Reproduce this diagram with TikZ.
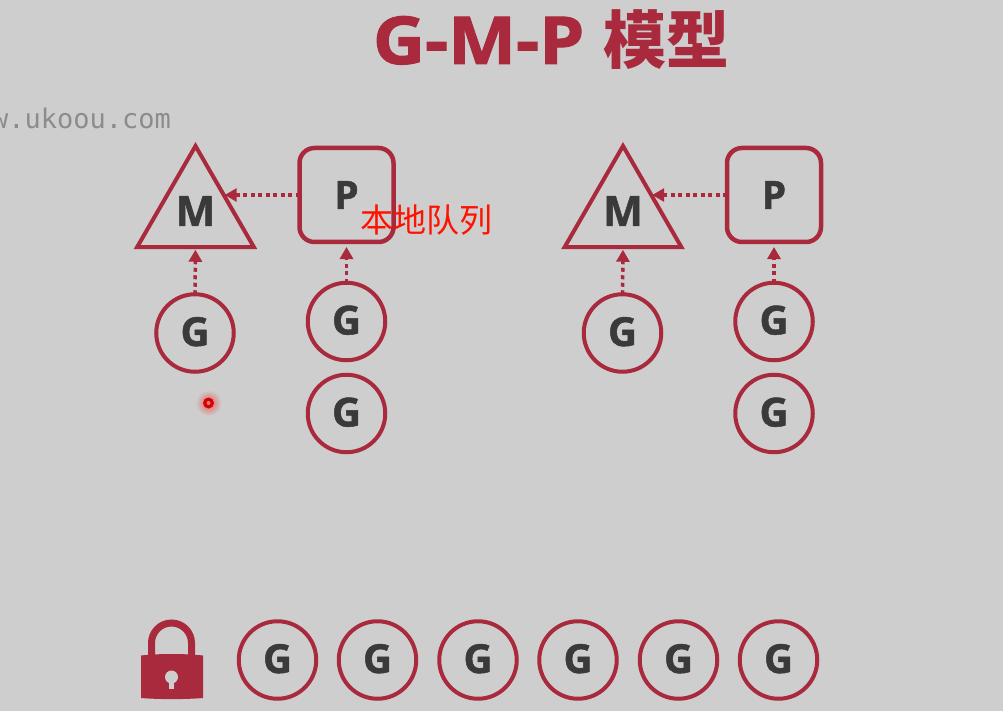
\documentclass[tikz,border=0pt]{standalone}
\usepackage{fontspec}
\setmainfont{Open Sans}[BoldFeatures={FakeBold=1.2}]
\newfontfamily\titlefont{Open Sans}[BoldFeatures={FakeStretch=1.09,FakeBold=1.5}]
\newfontfamily\cjk{Noto Sans CJK SC}
\setmonofont{DejaVu Sans Mono}
\usetikzlibrary{arrows.meta,shapes.geometric}
\definecolor{bgray}{HTML}{CECECE}
\definecolor{gored}{HTML}{A82A3C}
\definecolor{inkdark}{HTML}{3A3A3A}
\tikzset{
  gnode/.style={circle, draw=gored, line width=4pt, minimum size=77.5pt, inner sep=0pt, outer sep=0pt,
    text=inkdark, text depth=3pt, font=\fontsize{40}{40}\selectfont\bfseries},
  pnode/.style={rectangle, rounded corners=15pt, draw=gored, line width=4.5pt, minimum size=94pt, inner sep=0pt, outer sep=0pt,
    text=inkdark, font=\fontsize{39}{39}\selectfont\bfseries},
  mnode/.style={regular polygon, regular polygon sides=3, draw=gored, line width=4pt, minimum size=135pt, inner sep=0pt, outer sep=0pt,
    text=inkdark, text depth=5pt, font=\fontsize{42}{42}\selectfont\bfseries},
  hop/.style={draw=gored, line width=3.5pt, dash pattern=on 4pt off 3.5pt,
    -{Triangle[length=12pt,width=13pt,sep=0pt]}},
}

\begin{document}
\begin{tikzpicture}[x=1pt, y=-1pt]
  % Page
  \fill[bgray] (0,0) rectangle (1003,711);
  \useasboundingbox (0,0) rectangle (1003,711);

  % Title and watermark
  \node[text=gored, font=\fontsize{66}{66}\selectfont\bfseries\titlefont] (title) at (551,40) {G-M-P {\fontsize{63}{63}\selectfont\cjk 模型}};
  \node[anchor=east, text=black!45, font=\fontsize{27}{27}\selectfont\ttfamily] (mark) at (174.5,118) {w.ukoou.com};

  % Two M-P groups
  \foreach \id/\dx in {a/0, b/427.5} {
    \node[mnode] (m\id) at (195.5+\dx,213.5) {M};
    \node[pnode] (p\id) at (346.5+\dx,195) {P};
    \node[gnode] (g\id) at (195+\dx,333) {G};
    \node[gnode] (s\id) at (346.5+\dx,321.5) {G};
    \node[gnode] (t\id) at (346.5+\dx,413.5) {G};
    \draw[hop] (p\id.west) -- (m\id.side 3 |- p\id.west);
    \draw[hop, shorten >=2.5pt] (g\id.north) -- (m\id.side 2);
    \draw[hop, shorten >=5pt] (s\id.north) -- (p\id.south);
  }

  % Label over the left P
  \node[text=red!85!orange, font=\fontsize{33}{33}\selectfont\cjk] (local) at (426,220) {本地队列};

  % Pointer dot
  \shade[inner color=red!55!bgray, outer color=bgray] (208.5,403) circle (13);
  \fill[red!85!black] (208.5,403) circle (5.5);
  \fill[red!40!bgray] (208.5,403) circle (2);

  % Global queue
  \foreach \i/\x in {1/277.5, 2/377.5, 3/478, 4/578, 5/678.5, 6/778.5} {
    \node[gnode] (q\i) at (\x,660) {G};
  }

  % Lock
  \draw[gored, line width=7pt] (151.5,656) -- (151.5,643) arc[start angle=180, end angle=360, radius=20] -- (191.5,656);
  \fill[gored] (141,655.5) .. controls (160,653.5) and (184,653.5) .. (203,655.5) -- (203,698)
    .. controls (184,699.5) and (160,699.5) .. (141,698) -- cycle;
  \fill[bgray] (171.5,677) circle (6.5);
  \fill[bgray] (169,677) rectangle (174,689);
\end{tikzpicture}
\end{document}
